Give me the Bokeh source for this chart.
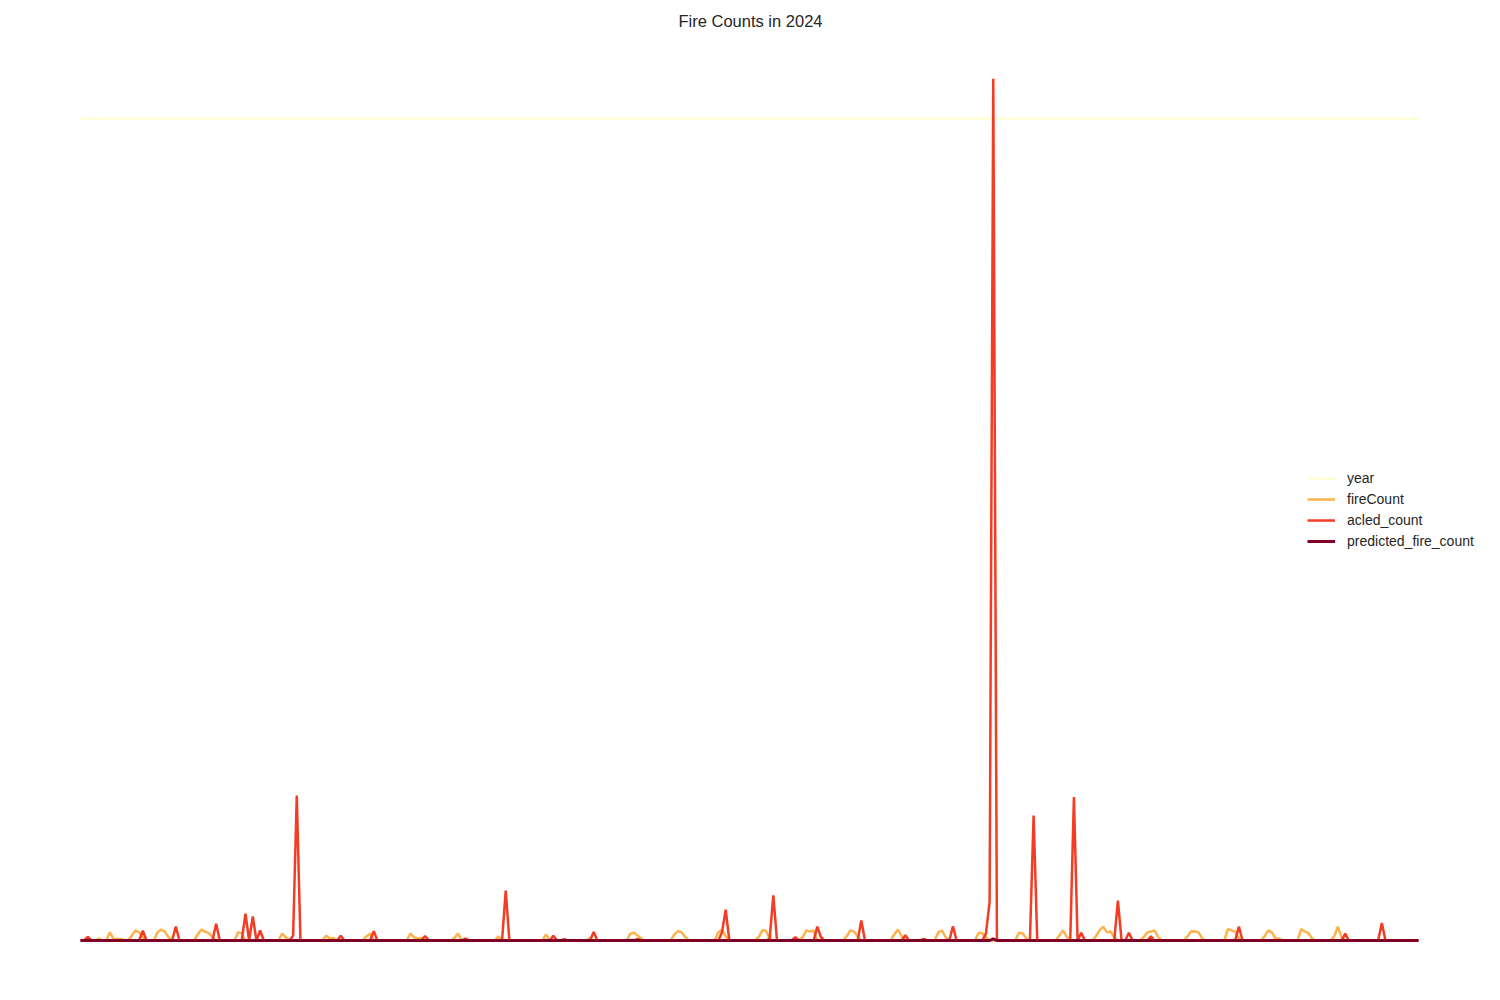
import numpy as np
from bokeh.plotting import figure
from bokeh.models import ColumnDataSource, Range1d, Legend, LegendItem
from bokeh.embed import file_html
from bokeh.resources import INLINE

# ---------------- data ----------------
n_days = 366
year_value = 2024

fire_days = [2, 5, 8, 9, 10, 11, 14, 15, 16, 17, 21, 22, 23, 24, 32, 33, 34, 35, 36,
             43, 44, 55, 56, 67, 68, 69, 78, 79, 90, 91, 92, 93, 102, 103, 105, 114,
             127, 139, 150, 151, 152, 153, 162, 163, 164, 165, 174, 175, 176, 185,
             186, 187, 188, 197, 198, 199, 200, 209, 210, 211, 212, 222, 223, 224,
             234, 235, 236, 245, 246, 247, 256, 257, 258, 267, 268, 269, 277, 278,
             279, 280, 281, 282, 290, 291, 292, 293, 294, 302, 303, 304, 305, 306,
             313, 314, 315, 316, 323, 324, 325, 326, 327, 333, 334, 335, 336, 342,
             343, 344]
fire_vals = [3, 5, 20, 4, 4, 4, 12, 25, 20, 8, 20, 27, 22, 8, 15, 27, 22, 18, 8,
             20, 18, 17, 8, 12, 5, 6, 10, 17, 17, 8, 5, 6, 6, 17, 5, 10,
             15, 6, 17, 19, 12, 5, 15, 23, 20, 8, 20, 27, 10, 8,
             25, 24, 5, 8, 25, 22, 24, 10, 25, 22, 10, 15, 27, 10,
             20, 25, 8, 19, 18, 8, 19, 18, 5, 12, 25, 10, 10, 25,
             34, 20, 22, 8, 8, 20, 22, 25, 8, 10, 23, 22, 20, 5,
             28, 25, 22, 5, 10, 25, 20, 5, 5, 28, 22, 18, 5, 10,
             34, 8]

acled_days = [2, 17, 26, 37, 45, 47, 49, 58, 59, 71, 80, 94, 105, 116, 129, 132, 140,
              152, 175, 176, 188, 189, 195, 201, 202, 213, 225, 230, 238, 247, 248,
              249, 260, 271, 273, 283, 286, 292, 316, 345, 355]
acled_vals = [9, 24, 34, 41, 66, 59, 25, 12, 357, 12, 23, 11, 5, 123, 12, 3, 21,
              4, 20, 76, 5, 111, 8, 34, 8, 49, 13, 4, 35, 17, 95,
              2122, 308, 353, 19, 98, 19, 10, 34, 17, 43]

pred_days = [249]
pred_vals = [4]

series_names = ["year", "fireCount", "acled_count", "predicted_fire_count"]
colors = ["#ffffcc", "#feb24c", "#f33c24", "#800026"]
widths = [2, 2.5, 2.5, 3]

# ---------------- build full series ----------------
day = np.arange(n_days)
year = np.full(n_days, year_value, dtype=float)
fire = np.zeros(n_days)
fire[fire_days] = fire_vals
acled = np.zeros(n_days)
acled[acled_days] = acled_vals
pred = np.zeros(n_days)
pred[pred_days] = pred_vals

src = ColumnDataSource(dict(day=day, year=year, fireCount=fire,
                            acled_count=acled, predicted_fire_count=pred))

# ---------------- figure ----------------
W, H = 1484, 984
top_border = 34
frame_top = top_border
frame_bottom = H
px_per_day = (1418 - 80) / 365.0
px_per_unit = (940 - 118) / 2024.0

x0 = -80 / px_per_day
x1 = 365 + (W - 1418) / px_per_day
y0 = -(frame_bottom - 940) / px_per_unit
y1 = 2024 + (118 - frame_top) / px_per_unit

p = figure(width=W, height=H, output_backend="svg", toolbar_location=None,
           x_range=Range1d(x0, x1), y_range=Range1d(y0, y1),
           min_border_left=0, min_border_right=0, min_border_bottom=0,
           min_border_top=top_border, title="Fire Counts in 2024")
p.title.align = "left"
p.title.offset = 678
p.title.text_font = "Liberation Sans"
p.title.text_font_size = "16.5px"
p.title.text_font_style = "normal"
p.title.text_color = "#262626"

p.axis.visible = False
p.xgrid.visible = False
p.ygrid.visible = False
p.outline_line_color = None
p.background_fill_color = "white"
p.border_fill_color = "white"

items = []
for name, c, w in zip(series_names, colors, widths):
    r = p.line("day", name, source=src, line_color=c, line_width=w)
    items.append(LegendItem(label=name, renderers=[r]))

legend_bottom = 560
legend = Legend(items=items, location=(1297, frame_bottom - legend_bottom),
                glyph_width=28, glyph_height=18, label_height=18, spacing=3,
                label_standoff=12, padding=10, border_line_alpha=0,
                background_fill_alpha=0, label_text_font="Liberation Sans",
                label_text_font_size="14px", label_text_color="#262626")
p.add_layout(legend, "center")

open("out.html", "w").write(file_html(p, INLINE))
